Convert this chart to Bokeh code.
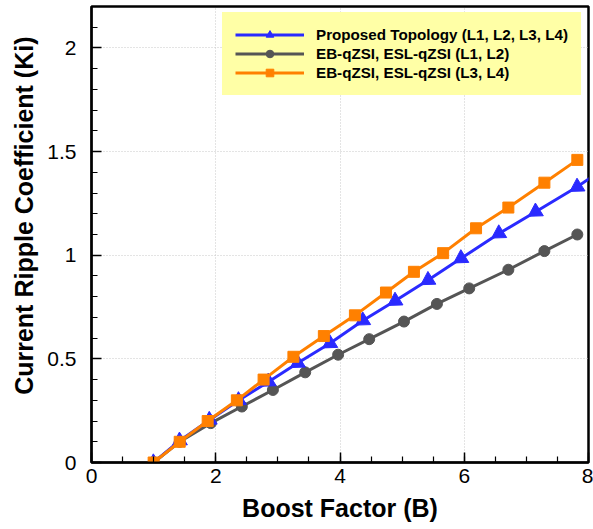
from bokeh.plotting import figure
from bokeh.models import Range1d, Legend, LegendItem, Title, SingleIntervalTicker
from bokeh.embed import file_html
from bokeh.resources import INLINE

# ---- data ----
x_label = "Boost Factor (B)"
y_label = "Current Ripple Coefficient (Ki)"

names = ["Proposed Topology (L1, L2, L3, L4)",
         "EB-qZSI, ESL-qZSI (L1, L2)",
         "EB-qZSI, ESL-qZSI (L3, L4)"]

blue_x = [1.0, 1.42, 1.9, 2.37, 2.85, 3.32, 3.84, 4.37, 4.89, 5.42, 5.95, 6.56, 7.15, 7.82, 8.35]
blue_y = [0.0, 0.105, 0.205, 0.30, 0.39, 0.48, 0.575, 0.685, 0.78, 0.88, 0.985, 1.105, 1.21, 1.33, 1.44]

gray_x = [1.0, 1.42, 1.92, 2.42, 2.92, 3.44, 3.97, 4.47, 5.03, 5.56, 6.08, 6.71, 7.29, 7.82]
gray_y = [0.0, 0.10, 0.19, 0.27, 0.35, 0.435, 0.52, 0.595, 0.68, 0.765, 0.84, 0.93, 1.02, 1.10]

orange_x = [1.0, 1.42, 1.87, 2.34, 2.77, 3.25, 3.74, 4.24, 4.74, 5.19, 5.66, 6.19, 6.71, 7.29, 7.82]
orange_y = [0.0, 0.10, 0.20, 0.30, 0.40, 0.51, 0.61, 0.71, 0.82, 0.92, 1.01, 1.13, 1.23, 1.35, 1.46]

BLUE = "#2A2AFF"
GRAY = "#555555"
ORANGE = "#FF8000"
LEG_BG = "#FFFFA6"
FONT = "Liberation Sans"

p = figure(width=593, height=529, x_range=Range1d(0, 8), y_range=Range1d(0, 2.2),
           output_backend="svg", toolbar_location=None,
           min_border_left=91, min_border_right=5, min_border_top=6, min_border_bottom=67)

p.outline_line_color = "black"
p.outline_line_width = 2.5
p.outline_line_alpha = 1.0

xt = SingleIntervalTicker(interval=2, num_minor_ticks=4)
yt = SingleIntervalTicker(interval=0.5, num_minor_ticks=5)
p.xaxis.ticker = xt
p.yaxis.ticker = yt
p.xgrid.ticker = xt
p.ygrid.ticker = yt

for g in (p.xgrid, p.ygrid):
    g.grid_line_color = "#c8c8c8"
    g.grid_line_dash = "1 2"
    g.grid_line_width = 1

for ax in (p.xaxis, p.yaxis):
    ax.axis_line_color = "black"
    ax.axis_line_width = 2
    ax.major_tick_in = 10
    ax.major_tick_out = 0
    ax.minor_tick_in = 6
    ax.minor_tick_out = 0
    ax.major_tick_line_color = "black"
    ax.major_tick_line_width = 1.5
    ax.minor_tick_line_color = "black"
    ax.minor_tick_line_width = 1.2
    ax.major_label_text_font = FONT
    ax.major_label_text_font_size = "21px"
    ax.major_label_text_color = "black"

p.xaxis.major_label_standoff = 6
p.yaxis.major_label_standoff = 15
p.xaxis.axis_label = x_label
p.xaxis.axis_label_text_font = FONT
p.xaxis.axis_label_text_font_size = "25px"
p.xaxis.axis_label_text_font_style = "bold"
p.xaxis.axis_label_text_color = "black"
p.xaxis.axis_label_standoff = 8

ytitle = Title(text=y_label, align="right", vertical_align="top", offset=30, standoff=10,
               text_font=FONT, text_font_size="25px", text_font_style="bold",
               text_color="black")
p.add_layout(ytitle, "left")

# series
g_line = p.line(gray_x, gray_y, line_color=GRAY, line_width=3)
g_mark = p.scatter(gray_x, gray_y, marker="circle", size=11, fill_color=GRAY, line_color=GRAY)

b_line = p.line(blue_x, blue_y, line_color=BLUE, line_width=3)
b_mark = p.scatter(blue_x, blue_y, marker="triangle", size=15, angle=122, angle_units="deg",
                   fill_color=BLUE, line_color=BLUE)

o_line = p.line(orange_x, orange_y, line_color=ORANGE, line_width=3)
o_mark = p.scatter(orange_x, orange_y, marker="square", size=11, fill_color=ORANGE, line_color=ORANGE)

legend = Legend(items=[
    LegendItem(label=names[0], renderers=[b_line, b_mark]),
    LegendItem(label=names[1], renderers=[g_line, g_mark]),
    LegendItem(label=names[2], renderers=[o_line, o_mark]),
], location=(131, 367))
legend.background_fill_color = LEG_BG
legend.background_fill_alpha = 1.0
legend.border_line_color = LEG_BG
legend.border_line_width = 1
legend.padding = 12
legend.spacing = 0
legend.margin = 0
legend.glyph_width = 69
legend.glyph_height = 19
legend.label_height = 19
legend.label_standoff = 12
legend.label_text_font = FONT
legend.label_text_font_size = "15.2px"
legend.label_text_font_style = "bold"
legend.label_text_color = "black"
p.add_layout(legend)

open("out.html", "w").write(file_html(p, INLINE))
